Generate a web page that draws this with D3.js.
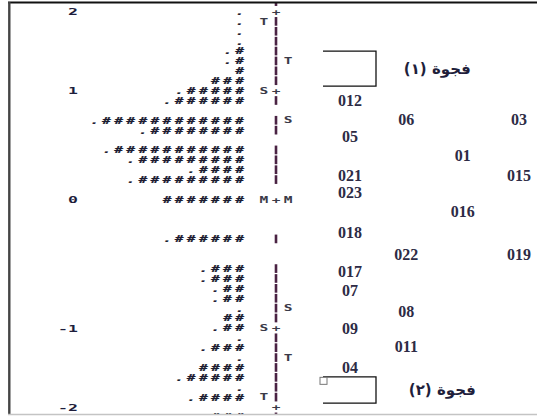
<!DOCTYPE html>
<html><head><meta charset="utf-8">
<script src="https://cdn.jsdelivr.net/npm/d3@7"></script>
<style>html,body{margin:0;padding:0;background:#fff;} svg{display:block;}</style>
</head><body>
<script>
// ---- data (map rows, top row = 0) ----
const personHashes = [0,0,0,0,1,1,1,3,5,6, 0,12,8,0,11,9,4,9,0,7, 0,0,0,6,0,0,3,3,2,2, 0,2,2,0,3,0,4,5,0,4, 0,3];
const personDots   = [1,1,1,1,1,1,0,0,1,1, 0,1,1,0,1,1,1,1,0,0, 0,0,0,1,0,0,1,1,1,1, 1,0,1,1,1,1,0,1,1,1, 0,0];
const tickLabels = ["2","1","0","-1","-2"];
const tickRows   = [0, 8, 19, 32, 40];
const plusRows   = [0, 8, 19, 32, 40];
const rulerRows  = [-1,1,2,3,4,5,6,7,9,11,12,14,15,16,17,23,26,27,28,29,30,31,33,34,35,36,37,38,39,41];
const personStatLabels = ["T","S","M","S","T"];
const personStatRows   = [1, 8, 19, 32, 39];
const itemStatLabels   = ["T","S","M","S","T"];
const itemStatRows     = [5, 11, 19, 30, 35];
const itemNames   = ["012","06","03","05","01","021","015","023","016","018","022","019","017","07","08","09","011","04"];
const itemRows    = [9.0,10.9,10.9,12.6,14.6,16.6,16.6,18.3,20.2,22.4,24.6,24.6,26.3,28.2,30.3,32.1,33.9,36.0];
const itemColumns = [1,2,4,1,3,1,4,1,3,1,2,4,1,1,2,1,2,1];
const gapLabels = ["فجوة (١)", "فجوة (٢)"];
const gapStartRows = [4.0, 36.95];
const gapEndRows   = [7.55, 39.6];

// ---- layout ----
const W = 537, H = 416;
const svg = d3.select("body").append("svg").attr("width", W).attr("height", H);

const y = d3.scaleLinear().domain([0, 40]).range([11.5, 407]);
const cellX = d3.scaleLinear().domain([1, 2]).range([239.7, 227.6]);
const colX = d3.scaleLinear().domain([1, 4]).range([350, 519]);
const rowH = y(1) - y(0);
const cellW = cellX(1) - cellX(2);

svg.append("defs").append("clipPath").attr("id","c")
  .append("rect").attr("x", 10).attr("y", 3).attr("width", W).attr("height", 411.5);
const g = svg.append("g").attr("clip-path","url(#c)");

const monoFont = "'DejaVu Sans Mono', monospace";

// persons histogram: one text line per map row
const pSize = 14, pAdv = pSize * 0.602, pLs = cellW - pAdv;
const personLines = personHashes.map((h, r) => ({r, s: (personDots[r] ? "." : "") + "#".repeat(h)}))
  .filter(d => d.s.length > 0);
g.selectAll("text.p").data(personLines).join("text")
  .attr("class","p")
  .attr("x", d => cellX(d.s.length) - pAdv / 2)
  .attr("transform", d => `translate(0,${y(d.r) + 3.4}) scale(1,0.6)`)
  .attr("text-anchor","start")
  .attr("letter-spacing", pLs)
  .attr("font-family", monoFont).attr("font-weight","bold").attr("font-style","italic")
  .attr("font-size", pSize).attr("fill", "#1b1b30")
  .attr("stroke", "#1b1b30").attr("stroke-width", 0.4)
  .text(d => d.s);

// ruler line
g.selectAll("rect.rule").data(rulerRows).join("rect")
  .attr("class","rule")
  .attr("x", cellX(-2) - 1.3).attr("width", 2.6)
  .attr("y", d => y(d) - rowH / 2 + 0.6).attr("height", rowH - 1.2)
  .attr("fill", "#4a2343");

function rulerText(data, rowsArr, k) {
  g.append("g").selectAll("text").data(data).join("text")
    .attr("transform", (d, i) => `translate(${cellX(k)},${y(rowsArr[i]) + 3.2}) scale(1.45,0.8)`)
    .attr("text-anchor","middle")
    .attr("font-family", monoFont).attr("font-weight","bold")
    .attr("font-size", 10).attr("fill", "#3a3a48")
    .text(d => d);
}
rulerText(plusRows.map(() => "+"), plusRows, -2);
rulerText(personStatLabels, personStatRows, -1);
rulerText(itemStatLabels, itemStatRows, -3);

// tick labels (logits)
g.append("g").selectAll("text").data(tickLabels).join("text")
  .attr("transform", (d, i) => `translate(78,${y(tickRows[i]) + 3.8}) scale(1.5,0.85)`)
  .attr("text-anchor","end")
  .attr("font-family", monoFont).attr("font-weight","bold")
  .attr("font-size", 11).attr("fill", "#1e1e3c")
  .text(d => d);

// items
g.append("g").selectAll("text").data(itemNames).join("text")
  .attr("x", (d, i) => colX(itemColumns[i]))
  .attr("y", (d, i) => y(itemRows[i]) + 5.5)
  .attr("text-anchor","middle")
  .attr("font-family", "'Liberation Serif', serif").attr("font-weight","bold")
  .attr("font-size", 16).attr("fill", "#2d2b45")
  .text(d => d);

// gap brackets
const bx0 = colX(1) - 27, bx1 = colX(1) + 26;
gapLabels.forEach((lab, i) => {
  const y0 = y(gapStartRows[i]), y1 = y(gapEndRows[i]);
  g.append("path")
    .attr("d", `M${bx0},${y0}H${bx1}V${y1}H${bx0}`)
    .attr("fill","none").attr("stroke","#111").attr("stroke-width",1.3);
  g.append("text")
    .attr("x", colX(2) + 31 + i * 5).attr("y", (y0 + y1) / 2 + 5)
    .attr("text-anchor","middle").attr("direction","rtl")
    .attr("font-family","'DejaVu Sans', sans-serif").attr("font-weight","bold")
    .attr("font-size", 15).attr("fill","#1f1f3c")
    .text(lab);
});
// small selection handle
g.append("rect").attr("x", bx0 - 3).attr("y", y(gapStartRows[1]) + 0.5)
  .attr("width", 7).attr("height", 7)
  .attr("fill","#fff").attr("stroke","#777").attr("stroke-width",1);

// frame
svg.append("line").attr("x1", 8).attr("x2", W).attr("y1", 2.5).attr("y2", 2.5)
  .attr("stroke","#111").attr("stroke-width", 2.2);
svg.append("line").attr("x1", 9.3).attr("x2", 9.3).attr("y1", 2).attr("y2", 415)
  .attr("stroke","#444").attr("stroke-width", 2.4);
svg.append("line").attr("x1", 8).attr("x2", W).attr("y1", 414.5).attr("y2", 414.5)
  .attr("stroke","#c4c4c4").attr("stroke-width", 1.5);
</script>
</body></html>
